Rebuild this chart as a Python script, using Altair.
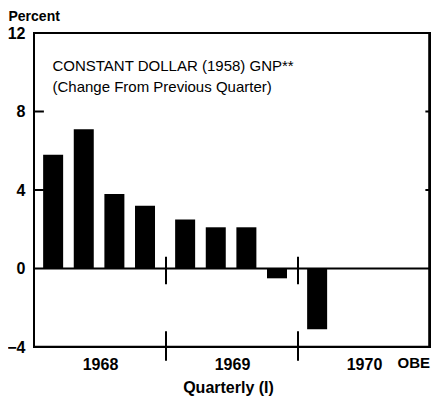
import altair as alt
import pandas as pd

years = ["1968", "1968", "1968", "1968", "1969", "1969", "1969", "1969", "1970"]
quarters = [1, 2, 3, 4, 1, 2, 3, 4, 1]
values = [5.8, 7.1, 3.8, 3.2, 2.5, 2.1, 2.1, -0.5, -3.1]
year_labels = ["1968", "1969", "1970"]
source_label = "OBE"
title_lines = ["CONSTANT DOLLAR (1958) GNP**", "(Change From Previous Quarter)"]

year_index = {y: i for i, y in enumerate(year_labels)}
df = pd.DataFrame({
    "year": years,
    "quarter": quarters,
    "value": values,
})
df["pos"] = [year_index[y] + 0.145 + 0.232 * (q - 1) for y, q in zip(years, quarters)]

FONT = "Liberation Sans"

xscale = alt.Scale(domain=[0, 3], nice=False, zero=False, padding=0)
yscale = alt.Scale(domain=[-4, 12], nice=False, padding=0)

label_expr = ("datum.value < 1 ? '1968' : datum.value < 2 ? '1969' : '1970'")

xaxis = alt.Axis(values=[0.5, 1.5, 2.5], labelExpr=label_expr,
                 ticks=False, domain=False, grid=False,
                 labelFont=FONT, labelFontWeight="bold", labelFontSize=16,
                 labelColor="black", labelPadding=9,
                 title="Quarterly (I)", titleFont=FONT, titleFontWeight="bold",
                 titleFontSize=16, titleColor="black", titlePadding=7,
                 titleX=194)
yaxis = alt.Axis(values=[-4, 0, 4, 8, 12], ticks=False, domain=False, grid=False,
                 labelFont=FONT, labelFontWeight="bold", labelFontSize=16,
                 labelColor="black", labelPadding=9,
                 title="Percent", titleAngle=0, titleAlign="left",
                 titleBaseline="middle",
                 titleX=-26, titleY=-17, titleFont=FONT, titleFontWeight="bold",
                 titleFontSize=14, titleColor="black")

bars = alt.Chart(df).mark_bar(color="black", size=20).encode(
    x=alt.X("pos:Q", scale=xscale, axis=xaxis),
    y=alt.Y("value:Q", scale=yscale, axis=yaxis),
)

# frame: four sides
hframe = alt.Chart(pd.DataFrame({"y": [-3.985, 12]})).mark_rule(
    color="black", strokeWidth=2).encode(
    y=alt.Y("y:Q", scale=yscale, axis=yaxis), x=alt.datum(0), x2=alt.datum(3))
vframe = alt.Chart(pd.DataFrame({"x": [0, 2.994]})).mark_rule(
    color="black", strokeWidth=2).encode(
    x=alt.X("x:Q", scale=xscale, axis=xaxis), y=alt.datum(-4), y2=alt.datum(12))

zero = alt.Chart(pd.DataFrame({"y": [0]})).mark_rule(color="black", strokeWidth=2).encode(
    y=alt.Y("y:Q", scale=yscale, axis=yaxis), x=alt.datum(0), x2=alt.datum(3))

sep_df = pd.DataFrame({
    "x": [1, 1, 2, 2],
    "y1": [0.6, -3.2, 0.6, -3.2],
    "y2": [-0.8, -4.7, -0.8, -4.7],
})
seps = alt.Chart(sep_df).mark_rule(color="black", strokeWidth=2).encode(
    x=alt.X("x:Q", scale=xscale, axis=xaxis),
    y=alt.Y("y1:Q", scale=yscale, axis=yaxis), y2="y2:Q")

tick_df = pd.DataFrame({
    "y": [4, 8, 4, 8],
    "x1": [0, 0, 2.965, 2.965],
    "x2": [0.075, 0.075, 3.0, 3.0],
})
ticks = alt.Chart(tick_df).mark_rule(color="black", strokeWidth=2).encode(
    y=alt.Y("y:Q", scale=yscale, axis=yaxis),
    x=alt.X("x1:Q", scale=xscale, axis=xaxis), x2="x2:Q")

obe = alt.Chart(pd.DataFrame({"t": [source_label]})).mark_text(
    align="right", baseline="top", font=FONT, fontWeight="bold", fontSize=15,
    color="black", dy=9).encode(
    x=alt.datum(3), y=alt.datum(-4), text="t:N")

t1 = alt.Chart(pd.DataFrame({"t": [title_lines[0]]})).mark_text(
    align="left", baseline="middle", font=FONT, fontSize=15, color="black").encode(
    x=alt.datum(0.14), y=alt.datum(10.3), text="t:N")
t2 = alt.Chart(pd.DataFrame({"t": [title_lines[1]]})).mark_text(
    align="left", baseline="middle", font=FONT, fontSize=15, color="black").encode(
    x=alt.datum(0.14), y=alt.datum(9.25), text="t:N")

chart = alt.layer(bars, zero, seps, ticks, hframe, vframe, obe, t1, t2).properties(
    width=396, height=314,
    autosize=alt.AutoSizeParams(type="none"),
    padding={"left": 26, "top": 25, "right": 3, "bottom": 49},
).configure(background="white").configure_view(stroke="black", strokeWidth=2)

chart.save("out.html", embed_options={"renderer": "svg", "actions": False})
